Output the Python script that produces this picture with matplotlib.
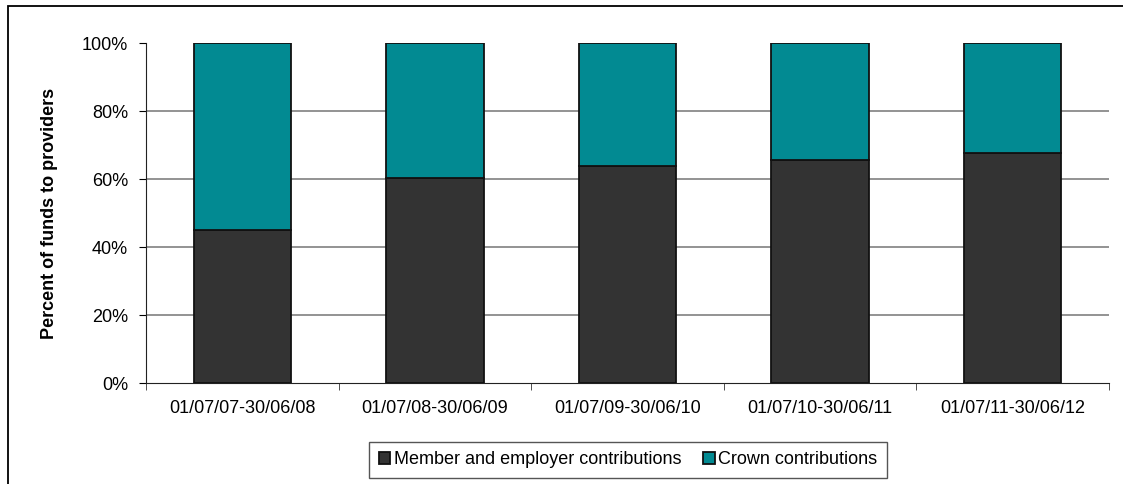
import numpy as np
import matplotlib
matplotlib.use("Agg")
import matplotlib.pyplot as plt
from matplotlib.patches import Rectangle

periods = ["01/07/07-30/06/08", "01/07/08-30/06/09", "01/07/09-30/06/10",
           "01/07/10-30/06/11", "01/07/11-30/06/12"]
member_employer = [45.0, 60.4, 63.9, 65.7, 67.7]
crown = [100 - v for v in member_employer]

plt.rcParams.update({"font.family": ["Liberation Sans", "DejaVu Sans"],
                     "font.size": 13})

fig = plt.figure(figsize=(11.23, 4.84), dpi=100)
ax = fig.add_axes([146 / 1123, 1 - 383 / 484, (1109 - 146) / 1123, 340 / 484])

x = np.arange(len(periods))
ax.bar(x, member_employer, width=0.505, color="#333333", edgecolor="#111111",
       linewidth=1.3, label="Member and employer contributions", zorder=3)
ax.bar(x, crown, bottom=member_employer, width=0.505, color="#028A92",
       edgecolor="#111111", linewidth=1.3, label="Crown contributions", zorder=3)

ax.set_xlim(-0.5, len(periods) - 0.5)
ax.set_ylim(0, 100)
ax.set_yticks(range(0, 101, 20))
ax.set_yticklabels([f"{v}%" for v in range(0, 101, 20)])
ax.set_xticks(x)
ax.set_xticklabels(periods)
ax.set_xticks(np.arange(-0.5, len(periods)), minor=True)
ax.tick_params(axis="x", which="major", length=0, pad=12)
ax.tick_params(axis="x", which="minor", length=5, direction="out", color="#333333")
ax.tick_params(axis="y", length=5, direction="out", pad=8)

for v in range(20, 100, 20):
    ax.axhline(v, color="#808080", lw=1.2, zorder=1)

for s in ["top", "right"]:
    ax.spines[s].set_visible(False)
ax.spines["left"].set_color("#222222")
ax.spines["bottom"].set_color("#222222")

ax.set_ylabel("Percent of funds to providers", fontweight="bold", fontsize=13,
              labelpad=17)

fig.legend(loc="center", bbox_to_anchor=(628 / 1123, 1 - 460 / 484), ncol=2,
           frameon=True, fancybox=False, edgecolor="#555555", framealpha=1,
           handlelength=0.65, handleheight=0.65, handletextpad=0.2,
           columnspacing=1.2, fontsize=13, borderpad=0.5)

# outer chart frame (right and bottom sides fall outside the image)
fig.patches.append(Rectangle((8 / 1123, -0.1), 1.2, 1.1 - 6 / 484,
                             transform=fig.transFigure, fill=False,
                             edgecolor="black", lw=1.3))

fig.savefig("out.png", dpi=100)
